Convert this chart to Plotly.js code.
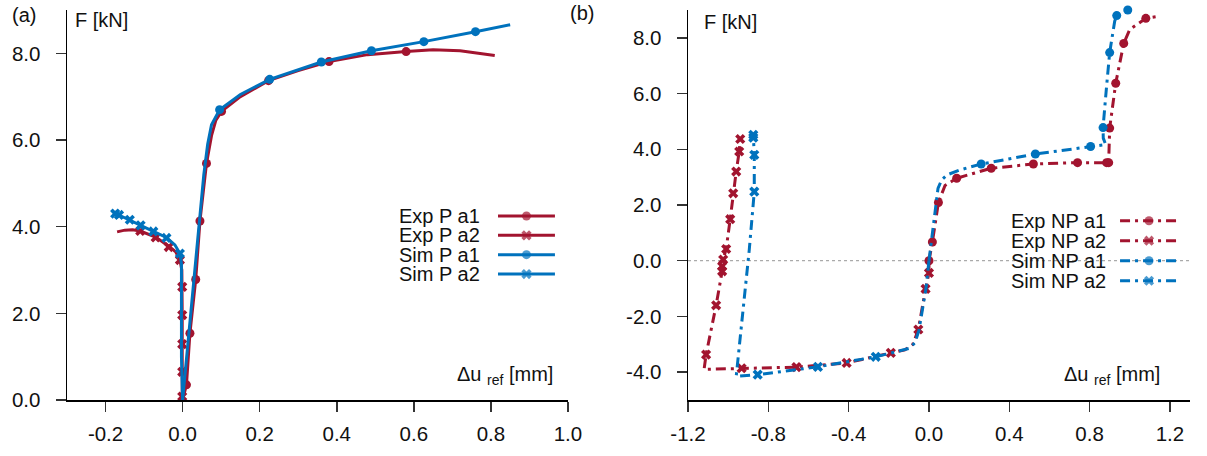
<!DOCTYPE html>
<html>
<head>
<meta charset="utf-8">
<script src="https://cdn.plot.ly/plotly-3.0.1.min.js"></script>
<style>html,body{margin:0;padding:0;background:#fff;}#chart{width:1207px;height:456px;}</style>
</head>
<body>
<div id="chart"></div>
<script>
// ---------------- Panel (a): P series ----------------
var expPa1X = [0, 0.010, 0.019, 0.034, 0.045, 0.062, 0.075, 0.086, 0.101, 0.15, 0.223, 0.30, 0.38, 0.48, 0.58, 0.65, 0.72, 0.81];
var expPa1Y = [0, 0.35, 1.54, 2.78, 4.13, 5.46, 6.10, 6.45, 6.66, 7.00, 7.37, 7.60, 7.81, 7.97, 8.04, 8.08, 8.06, 7.95];
var expPa1MX = [0.010, 0.019, 0.034, 0.045, 0.062, 0.101, 0.223, 0.38, 0.58];
var expPa1MY = [0.35, 1.54, 2.78, 4.13, 5.46, 6.66, 7.37, 7.81, 8.04];

var expPa2X = [0, -0.001, -0.001, -0.002, -0.007, -0.018, -0.036, -0.07, -0.11, -0.13, -0.15, -0.17];
var expPa2Y = [0, 0.10, 1.96, 3.00, 3.23, 3.42, 3.55, 3.76, 3.90, 3.93, 3.92, 3.88];
var expPa2MX = [-0.001, -0.001, -0.001, -0.001, -0.001, -0.007, -0.036, -0.07, -0.11];
var expPa2MY = [0.08, 0.65, 1.29, 1.96, 2.61, 3.23, 3.53, 3.75, 3.90];

var simPa1X = [0, 0.020, 0.040, 0.055, 0.065, 0.075, 0.096, 0.15, 0.226, 0.30, 0.36, 0.49, 0.626, 0.76, 0.85];
var simPa1Y = [0, 1.90, 3.90, 5.20, 5.90, 6.35, 6.70, 7.05, 7.40, 7.62, 7.80, 8.06, 8.27, 8.50, 8.66];
var simPa1MX = [0.096, 0.226, 0.36, 0.49, 0.626, 0.76];
var simPa1MY = [6.70, 7.40, 7.80, 8.06, 8.27, 8.50];

var simPa2X = [0, -0.003, -0.003, -0.007, -0.02, -0.042, -0.076, -0.109, -0.137, -0.165, -0.175];
var simPa2Y = [0, 1.00, 3.15, 3.38, 3.58, 3.75, 3.89, 4.03, 4.16, 4.27, 4.31];
var simPa2MX = [-0.007, -0.042, -0.076, -0.109, -0.137, -0.165, -0.175];
var simPa2MY = [3.38, 3.74, 3.89, 4.03, 4.16, 4.27, 4.30];

// ---------------- Panel (b): NP series ----------------
var expNPa1X = [0, 0.017, 0.047, 0.08, 0.138, 0.31, 0.52, 0.74, 0.885, 0.895, 0.90, 0.93, 0.97, 1.00, 1.08, 1.15];
var expNPa1Y = [0, 0.67, 2.09, 2.70, 2.96, 3.32, 3.47, 3.52, 3.52, 3.55, 4.76, 6.37, 7.80, 8.30, 8.70, 8.78];
var expNPa1MX = [0, 0.017, 0.047, 0.138, 0.31, 0.52, 0.74, 0.885, 0.895, 0.90, 0.93, 0.97, 1.08];
var expNPa1MY = [0, 0.67, 2.09, 2.96, 3.32, 3.47, 3.52, 3.52, 3.52, 4.76, 6.37, 7.80, 8.70];

var expNPa2X = [0, 0.0, -0.017, -0.053, -0.08, -0.12, -0.19, -0.41, -0.66, -0.933, -1.12, -1.11, -1.06, -1.03, -1.03, -1.025, -1.01, -0.99, -0.975, -0.96, -0.945, -0.94];
var expNPa2Y = [0, -0.44, -1.01, -2.47, -3.00, -3.20, -3.31, -3.67, -3.82, -3.86, -3.90, -3.37, -1.60, -0.38, -0.20, 0.04, 0.42, 1.49, 2.42, 3.20, 3.92, 4.37];
var expNPa2MX = [0.0, -0.017, -0.053, -0.19, -0.41, -0.66, -0.933, -1.11, -1.06, -1.03, -1.03, -1.025, -1.01, -0.99, -0.975, -0.96, -0.945, -0.94];
var expNPa2MY = [-0.44, -1.01, -2.47, -3.31, -3.67, -3.82, -3.86, -3.37, -1.60, -0.38, -0.20, 0.04, 0.42, 1.49, 2.42, 3.20, 3.92, 4.37];

var simNPa1X = [0, 0.02, 0.045, 0.063, 0.09, 0.15, 0.26, 0.53, 0.805, 0.88, 0.868, 0.867, 0.885, 0.90, 0.925, 0.935, 0.99];
var simNPa1Y = [0, 1.20, 2.60, 2.90, 3.08, 3.25, 3.47, 3.83, 4.10, 4.17, 4.40, 4.78, 6.30, 7.47, 8.60, 8.80, 9.00];
var simNPa1MX = [0.26, 0.53, 0.805, 0.867, 0.90, 0.935, 0.99];
var simNPa1MY = [3.47, 3.83, 4.10, 4.78, 7.47, 8.80, 9.00];

var simNPa2X = [0, -0.015, -0.05, -0.07, -0.10, -0.265, -0.553, -0.853, -0.96, -0.895, -0.87, -0.87, -0.875];
var simNPa2Y = [0, -1.00, -2.50, -2.95, -3.15, -3.45, -3.81, -4.09, -4.15, 0.39, 2.48, 3.80, 4.52];
var simNPa2MX = [-0.265, -0.553, -0.853, -0.87, -0.87, -0.875, -0.875];
var simNPa2MY = [-3.45, -3.81, -4.09, 2.48, 3.80, 4.42, 4.52];

// ---------------- Labels ----------------
var legendA = ["Exp P a1", "Exp P a2", "Sim P a1", "Sim P a2"];
var legendB = ["Exp NP a1", "Exp NP a2", "Sim NP a1", "Sim NP a2"];
var yTicksA = [0, 2, 4, 6, 8];
var yTicksB = [-4, -2, 0, 2, 4, 6, 8];
var xTicksA = [-0.2, 0, 0.2, 0.4, 0.6, 0.8, 1.0];
var xTicksB = [-1.2, -0.8, -0.4, 0, 0.4, 0.8, 1.2];

// ---------------- Styles ----------------
var RED = '#A2142F';
var BLUE = '#0072BD';
var LW = 3;
var DASHDOT = '10px,5px,3px,5px';
var FONT = 'Liberation Sans, Arial, sans-serif';

var traces = [];
function addSeries(lx, ly, mx, my, color, symbol, dash, xa, ya) {
  traces.push({x: lx, y: ly, xaxis: xa, yaxis: ya, mode: 'lines', type: 'scatter', cliponaxis: false,
    line: {color: color, width: LW, dash: dash}, hoverinfo: 'skip', showlegend: false});
  traces.push({x: mx, y: my, xaxis: xa, yaxis: ya, mode: 'markers', type: 'scatter', cliponaxis: false,
    marker: {color: color, size: 9, symbol: symbol, line: {width: 0}},
    hoverinfo: 'skip', showlegend: false});
}
addSeries(expPa1X, expPa1Y, expPa1MX, expPa1MY, RED, 'circle', 'solid', 'x', 'y');
addSeries(expPa2X, expPa2Y, expPa2MX, expPa2MY, RED, 'x', 'solid', 'x', 'y');
addSeries(simPa1X, simPa1Y, simPa1MX, simPa1MY, BLUE, 'circle', 'solid', 'x', 'y');
addSeries(simPa2X, simPa2Y, simPa2MX, simPa2MY, BLUE, 'x', 'solid', 'x', 'y');

addSeries(expNPa1X, expNPa1Y, expNPa1MX, expNPa1MY, RED, 'circle', DASHDOT, 'x2', 'y2');
addSeries(expNPa2X, expNPa2Y, expNPa2MX, expNPa2MY, RED, 'x', DASHDOT, 'x2', 'y2');
addSeries(simNPa1X, simNPa1Y, simNPa1MX, simNPa1MY, BLUE, 'circle', DASHDOT, 'x2', 'y2');
addSeries(simNPa2X, simNPa2Y, simNPa2MX, simNPa2MY, BLUE, 'x', DASHDOT, 'x2', 'y2');

// ---------------- Custom legends (text left, sample right) ----------------
var annotations = [];
var legColors = [RED, RED, BLUE, BLUE];
var legSymbols = ['circle', 'x', 'circle', 'x'];
function addLegend(names, textRight, lineL, lineR, yTop, step, dash) {
  names.forEach(function (n, i) {
    var yy = yTop - i * step;
    annotations.push({xref: 'paper', yref: 'paper', x: textRight, y: yy, text: n,
      showarrow: false, xanchor: 'right', yanchor: 'middle',
      font: {family: FONT, size: 20, color: '#111'}});
    traces.push({x: [lineL, (lineL + lineR) / 2, lineR], y: [yy, yy, yy], xaxis: 'x3', yaxis: 'y3',
      mode: 'lines+markers', type: 'scatter',
      line: {color: legColors[i], width: LW, dash: dash},
      marker: {color: legColors[i], symbol: legSymbols[i], size: [0, 9, 0], line: {width: 0}},
      hoverinfo: 'skip', showlegend: false});
  });
}
addLegend(legendA, 0.3695, 0.3838, 0.4345, 0.4718, 0.0496, 'solid');
addLegend(legendB, 0.927, 0.9377, 0.9893, 0.4597, 0.0513, DASHDOT);

// axis labels and panel tags
var lab = {family: FONT, size: 20, color: '#111'};
annotations.push({xref: 'paper', yref: 'paper', x: 0.0053, y: 0.974, text: 'F [kN]', showarrow: false, xanchor: 'left', yanchor: 'middle', font: lab});
annotations.push({xref: 'paper', yref: 'paper', x: 0.5654, y: 0.969, text: 'F [kN]', showarrow: false, xanchor: 'left', yanchor: 'middle', font: lab});
annotations.push({xref: 'paper', yref: 'paper', x: 0.4345, y: 0.064, text: 'Δu <sub>ref</sub> [mm]', showarrow: false, xanchor: 'right', yanchor: 'middle', font: lab});
annotations.push({xref: 'paper', yref: 'paper', x: 0.975, y: 0.064, text: 'Δu <sub>ref</sub> [mm]', showarrow: false, xanchor: 'right', yanchor: 'middle', font: lab});
annotations.push({xref: 'paper', yref: 'paper', x: -0.0508, y: 0.987, text: '(a)', showarrow: false, xanchor: 'left', yanchor: 'middle', font: lab});
annotations.push({xref: 'paper', yref: 'paper', x: 0.446, y: 0.992, text: '(b)', showarrow: false, xanchor: 'left', yanchor: 'middle', font: lab});

function fmt(v) { return v.toFixed(1); }
var axCommon = {showgrid: false, zeroline: false, showline: true, linecolor: '#000', linewidth: 1.5,
  ticks: 'outside', ticklen: 10, tickwidth: 1.5, tickcolor: '#333', mirror: false,
  tickfont: {family: FONT, size: 20.5, color: '#111'}, fixedrange: true};

var layout = {
  width: 1207, height: 456,
  margin: {l: 67, r: 17, t: 10, b: 56},
  paper_bgcolor: '#fff', plot_bgcolor: 'rgba(0,0,0,0)',
  showlegend: false,
  xaxis: Object.assign({}, axCommon, {domain: [0, 0.4461], range: [-0.3, 1.0], tickmode: 'array', tickvals: xTicksA, ticktext: xTicksA.map(fmt), anchor: 'y', ticklabelstandoff: 5}),
  yaxis: Object.assign({}, axCommon, {domain: [0, 1], range: [0, 9], tickmode: 'array', tickvals: yTicksA, ticktext: yTicksA.map(fmt), anchor: 'x', ticklabelstandoff: 11}),
  xaxis2: Object.assign({}, axCommon, {domain: [0.553, 1], range: [-1.2, 1.3], tickmode: 'array', tickvals: xTicksB, ticktext: xTicksB.map(fmt), anchor: 'y2', ticklabelstandoff: 5}),
  yaxis2: Object.assign({}, axCommon, {domain: [0, 1], range: [-5, 9], tickmode: 'array', tickvals: yTicksB, ticktext: yTicksB.map(fmt), anchor: 'x2', ticklabelstandoff: 11}),
  xaxis3: {domain: [0, 1], range: [0, 1], visible: false, anchor: 'y3', fixedrange: true},
  yaxis3: {domain: [0, 1], range: [0, 1], visible: false, anchor: 'x3', fixedrange: true},
  shapes: [{type: 'line', xref: 'x2', yref: 'y2', x0: -1.2, x1: 1.3, y0: 0, y1: 0, layer: 'below',
    line: {color: '#aaa', width: 1.2, dash: 'dot'}}],
  annotations: annotations
};

Plotly.newPlot('chart', traces, layout, {staticPlot: true, displayModeBar: false});
</script>
</body>
</html>
